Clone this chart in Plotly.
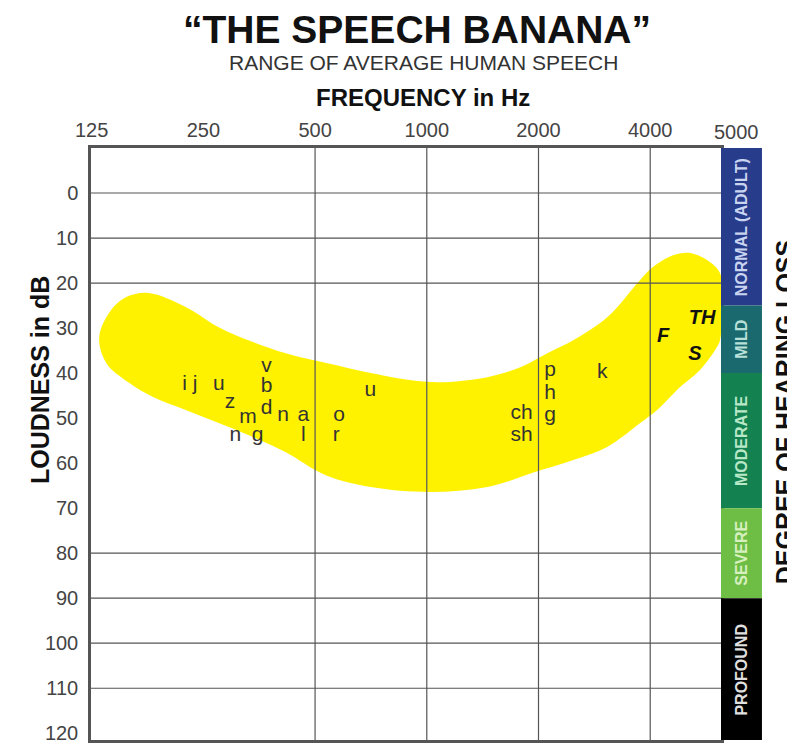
import numpy as np
import plotly.graph_objects as go

# axes
freq_ticks = [125, 250, 500, 1000, 2000, 4000]
freq_grid = [500, 1000, 2000, 4000]
db_ticks = list(range(0, 121, 10))
db_grid = [0, 10, 20, 80, 90, 100, 110]

# outline of the speech banana (Hz, dB), from the left tip along the top edge and back
banana_hz = [131, 141, 155, 178, 224, 275, 340, 417, 493, 568, 706, 1023, 1456, 1787,
             2022, 2192, 2481, 3063, 3758, 4073, 4610, 5122, 5690, 6168, 6250, 6168,
             6054, 5448, 4814, 4175, 3758, 3063, 2481, 2022, 1456, 1023, 706, 534,
             417, 340, 275, 224, 183, 158, 137, 131]
banana_db = [32, 26, 23.1, 22.2, 25.3, 29.8, 33.1, 35.6, 37.1, 38.2, 40, 42, 40.9, 38.7,
             36.4, 34.9, 32.7, 27.6, 19.3, 16.4, 13.8, 13.3, 14.9, 17.8, 23.8, 32.7,
             34.2, 39.3, 43.1, 48.2, 51.1, 56.4, 59.3, 61.6, 65.3, 66.4, 65.3, 62.7,
             57.6, 54.2, 51.1, 48.2, 45.3, 42.2, 37.8, 32]

# speech sounds
sound_text = ['i j', 'u', 'z', 'v', 'b', 'd', 'm', 'n', 'a', 'n', 'g', 'l',
              'o', 'r', 'u', 'ch', 'sh', 'p', 'h', 'g', 'k']
sound_hz = [230, 275, 295, 370, 370, 370, 330, 410, 465, 305, 350, 465,
            580, 570, 705, 1800, 1800, 2150, 2150, 2150, 2970]
sound_db = [42.5, 42.5, 46.5, 38.5, 43, 48, 50, 49.5, 49.5, 54, 54, 54,
            49.5, 54, 44, 49, 54, 39.5, 44.5, 49.5, 40]

bold_text = ['F', 'TH', 'S']
bold_hz = [4330, 5520, 5280]
bold_db = [32, 28, 36]

# degree of hearing loss
loss_labels = ['NORMAL (ADULT)', 'MILD', 'MODERATE', 'SEVERE', 'PROFOUND']
loss_top = [-10, 25, 40, 70, 90]
loss_bottom = [25, 40, 70, 90, 121.5]
loss_colors = ['#283c8c', '#19696e', '#148250', '#6ebe46', '#000000']
loss_text_colors = ['#c8d4f0', '#b8e0d8', '#b8e8c8', '#d8f0c0', '#e0e0e0']

FONT = 'Liberation Sans'

fig = go.Figure()

fig.add_trace(go.Scatter(
    x=banana_hz, y=banana_db,
    mode='lines', fill='toself', fillcolor='#fff200',
    line=dict(width=0, shape='spline', smoothing=1.0, color='#fff200'),
    hoverinfo='skip', showlegend=False
))

fig.add_trace(go.Scatter(
    x=sound_hz, y=sound_db, mode='text', text=sound_text,
    textposition='middle center',
    textfont=dict(family=FONT, size=21, color='#333333'),
    showlegend=False
))

fig.add_trace(go.Scatter(
    x=bold_hz, y=bold_db, mode='text', text=bold_text,
    textposition='middle center',
    textfont=dict(family=FONT, size=20, color='#111111', weight='bold', style='italic'),
    showlegend=False
))

# grid lines only where the chart has them
for f in freq_grid:
    fig.add_vline(x=f, line=dict(color='#555555', width=1.2))
for d in db_grid:
    fig.add_hline(y=d, line=dict(color='#555555', width=1.2))

# hearing loss bar on the right
bar_x0, bar_x1 = 1.0, 1.065
for lab, top, bot, col, tcol in zip(loss_labels, loss_top, loss_bottom, loss_colors, loss_text_colors):
    fig.add_shape(type='rect', xref='paper', yref='y', x0=bar_x0, x1=bar_x1,
                  y0=top, y1=bot, fillcolor=col, line=dict(width=0), layer='above')
    fig.add_annotation(xref='paper', yref='y', x=(bar_x0 + bar_x1) / 2, y=(top + bot) / 2,
                       xanchor='center', yanchor='middle',
                       text=f'<b>{lab}</b>', textangle=-90, showarrow=False,
                       font=dict(family=FONT, size=16, color=tcol))


def label(text, x, y, size, color='#111111', angle=0):
    fig.add_annotation(xref='paper', yref='paper', x=x, y=y, xanchor='center',
                       yanchor='middle', showarrow=False, text=text, textangle=angle,
                       font=dict(family=FONT, size=size, color=color))


# titles
label('<b>\u201cTHE SPEECH BANANA\u201d</b>', 0.517, 1.200, 39)
label('RANGE OF AVERAGE HUMAN SPEECH', 0.527, 1.145, 21, '#333333')
label('<b>FREQUENCY in Hz</b>', 0.527, 1.086, 24)
label('5000', 1.024, 1.027, 20, '#444444')
label('<b>LOUDNESS in dB</b>', -0.081, 0.608, 25, angle=-90)
label('<b>DEGREE OF HEARING LOSS</b>', 1.102, 0.554, 25, angle=-90)

fig.update_xaxes(
    type='log', side='top', range=[np.log10(124.5), np.log10(6206)],
    tickvals=freq_ticks, ticktext=[str(t) for t in freq_ticks],
    showgrid=False, zeroline=False, ticks='', automargin=False,
    showline=True, mirror=True, linecolor='#555555', linewidth=2.5,
    tickfont=dict(family=FONT, size=20, color='#444444'),
)
fig.update_yaxes(
    range=[121.5, -10], tickvals=db_ticks,
    showgrid=False, zeroline=False, ticks='', ticklabelstandoff=6, automargin=False,
    showline=True, mirror=True, linecolor='#555555', linewidth=2.5,
    tickfont=dict(family=FONT, size=20, color='#444444'),
)

# the page adds an 8 px body margin, so the plot area is placed 8 px up/left
fig.update_layout(
    width=795, height=744,
    margin=dict(l=83, r=82, t=140, b=12),
    plot_bgcolor='white', paper_bgcolor='white',
    showlegend=False,
)

fig.write_html("out.html")
